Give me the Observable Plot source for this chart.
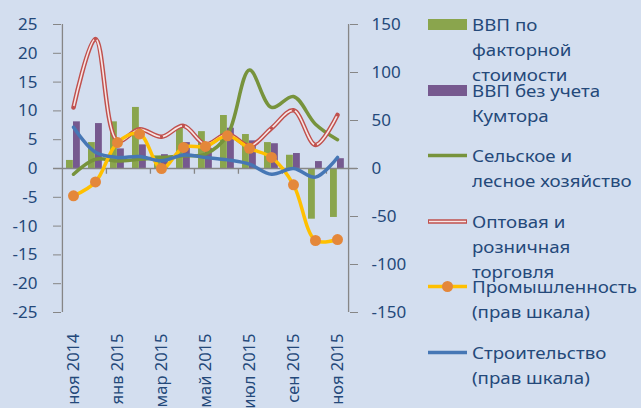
<!DOCTYPE html>
<html>
<head>
<meta charset="utf-8">
<script src="https://cdn.jsdelivr.net/npm/d3@7"></script>
<script src="https://cdn.jsdelivr.net/npm/@observablehq/plot@0.6"></script>
<style>
  html, body { margin: 0; padding: 0; background: #d3deef; }
  #wrap { position: relative; width: 641px; height: 408px; overflow: hidden; background: #d3deef; font-family: "Noto Sans", sans-serif; }
  .leg { position: absolute; left: 428px; width: 213px; color: #24497a; font-size: 17px; line-height: 25px; }
  .leg .txt { position: absolute; left: 44px; top: 0; white-space: nowrap; transform: scaleX(1.1); transform-origin: 0 0; }
  .leg svg { position: absolute; left: 0; top: 0; }
</style>
</head>
<body>
<div id="wrap"></div>
<script>
const months = ["ноя 2014","дек 2014","янв 2015","фев 2015","мар 2015","апр 2015","май 2015","июн 2015","июл 2015","авг 2015","сен 2015","окт 2015","ноя 2015"];
const labelMonths = ["ноя 2014","янв 2015","мар 2015","май 2015","июл 2015","сен 2015","ноя 2015"];
const tickMonths = ["янв 2015","мар 2015","май 2015","июл 2015","сен 2015","ноя 2015"];
const leftTicks = [-25,-20,-15,-10,-5,0,5,10,15,20,25];
const rightTicks = [-150,-100,-50,0,50,100,150];

// left scale series
const gdpFactor   = [1.4, 4.5, 8.1, 10.6, 2.2, 7.0, 6.4, 9.2, 5.9, 4.5, 2.3, -8.8, -8.5];
const gdpNoKumtor = [8.1, 7.8, 3.4, 4.1, 2.4, 4.5, 3.5, 7.0, 4.8, 4.3, 2.6, 1.2, 1.7];
const agriculture = [-1.0, 1.6, 1.3, 1.6, 1.9, 2.2, 2.5, 5.8, 17.1, 10.6, 12.5, 7.7, 5.0];
const trade       = [10.6, 22.5, 4.8, 6.8, 5.5, 7.4, 4.2, 6.0, 3.9, 7.0, 10.1, 4.1, 9.3];
// right scale series
const industry     = [-28.5, -14, 27, 36, 0, 22, 23, 34, 21, 11.5, -17, -75, -74];
const construction = [43, 17, 11.5, 12.5, 8, 14, 11.5, 9, 4.5, -6, 0, -9, 11.5];

const ratio = 150 / 25;
const rows = months.map((m, i) => ({
  m, gf: gdpFactor[i], gk: gdpNoKumtor[i], ag: agriculture[i], tr: trade[i],
  ind: industry[i] / ratio, con: construction[i] / ratio
}));

const W = 641, H = 408, mL = 61, mR = 292, mT = 24, mB = 96;
const bw = (W - mL - mR) / months.length;
const axisColor = "#868686";
const textColor = "#24497a";
const fmt = d => String(Math.round(d));

const chart = Plot.plot({
  width: W, height: H,
  marginLeft: mL, marginRight: mR, marginTop: mT, marginBottom: mB,
  style: { background: "transparent", fontFamily: "Noto Sans, sans-serif", fontSize: "17px", color: textColor, overflow: "visible" },
  x: { type: "band", domain: months, padding: 0, axis: null },
  y: { domain: [-25, 25], axis: null },
  marks: [
    Plot.barY(rows, { x: "m", y: "gf", fill: "#8aa54d", insetLeft: 4, insetRight: bw - 11 }),
    Plot.barY(rows, { x: "m", y: "gk", fill: "#76598f", insetLeft: 11, insetRight: bw - 18 }),
    Plot.ruleY([0], { stroke: axisColor, strokeWidth: 1.3, insetLeft: -8, insetRight: -8 }),
    Plot.ruleX(tickMonths, { dx: -bw / 2, y1: 0, y2: -1, stroke: axisColor, strokeWidth: 1.3 }),
    Plot.ruleX([months[0]], { dx: -bw / 2, y1: -25, y2: 25, stroke: axisColor, strokeWidth: 1.3 }),
    Plot.ruleX([months[months.length - 1]], { dx: bw / 2, y1: -25, y2: 25, stroke: axisColor, strokeWidth: 1.3 }),
    Plot.axisY(leftTicks, { anchor: "left", tickSize: 8, tickPadding: 16, tickFormat: fmt, stroke: axisColor, fill: textColor, fontSize: 17 }),
    Plot.axisY(rightTicks.map(v => v / ratio), { anchor: "right", tickSize: 8, tickPadding: 14, tickFormat: d => fmt(d * ratio), stroke: axisColor, fill: textColor, fontSize: 17 }),
    Plot.text(labelMonths, { x: d => d, frameAnchor: "bottom", dy: 21, rotate: -90, textAnchor: "end", lineAnchor: "middle", fill: textColor, fontSize: 16.5 }),
    Plot.line(rows, { x: "m", y: "ag", stroke: "#77933c", strokeWidth: 3.5, curve: "catmull-rom" }),
    Plot.line(rows, { x: "m", y: "tr", stroke: "#c0504d", strokeWidth: 4.5, curve: "catmull-rom" }),
    Plot.line(rows, { x: "m", y: "tr", stroke: "#f6e6e6", strokeWidth: 1.6, curve: "catmull-rom" }),
    Plot.dot(rows, { x: "m", y: "tr", r: 1.6, fill: "#c0504d" }),
    Plot.line(rows, { x: "m", y: "ind", stroke: "#ffc000", strokeWidth: 3.5, curve: "catmull-rom" }),
    Plot.dot(rows, { x: "m", y: "ind", r: 5.5, fill: "#e4873a" }),
    Plot.line(rows, { x: "m", y: "con", stroke: "#4677b5", strokeWidth: 3.5, curve: "catmull-rom" })
  ]
});

const wrap = document.getElementById("wrap");
wrap.appendChild(chart);
chart.style.position = "absolute";
chart.style.left = "0";
chart.style.top = "0";

const legendNames = ["ВВП по\nфакторной\nстоимости", "ВВП без учета\nКумтора", "Сельское и\nлесное хозяйство", "Оптовая и\nрозничная\nторговля", "Промышленность\n(прав шкала)", "Строительство\n(прав шкала)"];
const legendKinds = ["bar-green", "bar-purple", "line-green", "line-red", "line-orange", "line-blue"];
const legendTop = 12, legendStep = 65.5;

legendNames.forEach((name, i) => {
  const d = document.createElement("div");
  d.className = "leg";
  d.style.top = (legendTop + i * legendStep) + "px";
  const kind = legendKinds[i];
  let sym = "";
  if (kind === "bar-green") sym = `<rect x="0" y="7" width="39" height="11" fill="#8aa54d"/>`;
  else if (kind === "bar-purple") sym = `<rect x="0" y="7" width="39" height="11" fill="#76598f"/>`;
  else if (kind === "line-green") sym = `<line x1="0" x2="39" y1="12.5" y2="12.5" stroke="#77933c" stroke-width="3.5"/>`;
  else if (kind === "line-red") sym = `<line x1="0" x2="39" y1="12.5" y2="12.5" stroke="#c0504d" stroke-width="4.5"/><line x1="1" x2="38" y1="12.5" y2="12.5" stroke="#f6e6e6" stroke-width="1.6"/>`;
  else if (kind === "line-orange") sym = `<line x1="0" x2="39" y1="12.5" y2="12.5" stroke="#ffc000" stroke-width="3.5"/><circle cx="19.5" cy="12.5" r="5.5" fill="#e4873a"/>`;
  else if (kind === "line-blue") sym = `<line x1="0" x2="39" y1="12.5" y2="12.5" stroke="#4677b5" stroke-width="3.5"/>`;
  d.innerHTML = `<svg width="40" height="25">${sym}</svg><div class="txt">${name.split("\n").join("<br>")}</div>`;
  wrap.appendChild(d);
});
</script>
</body>
</html>
